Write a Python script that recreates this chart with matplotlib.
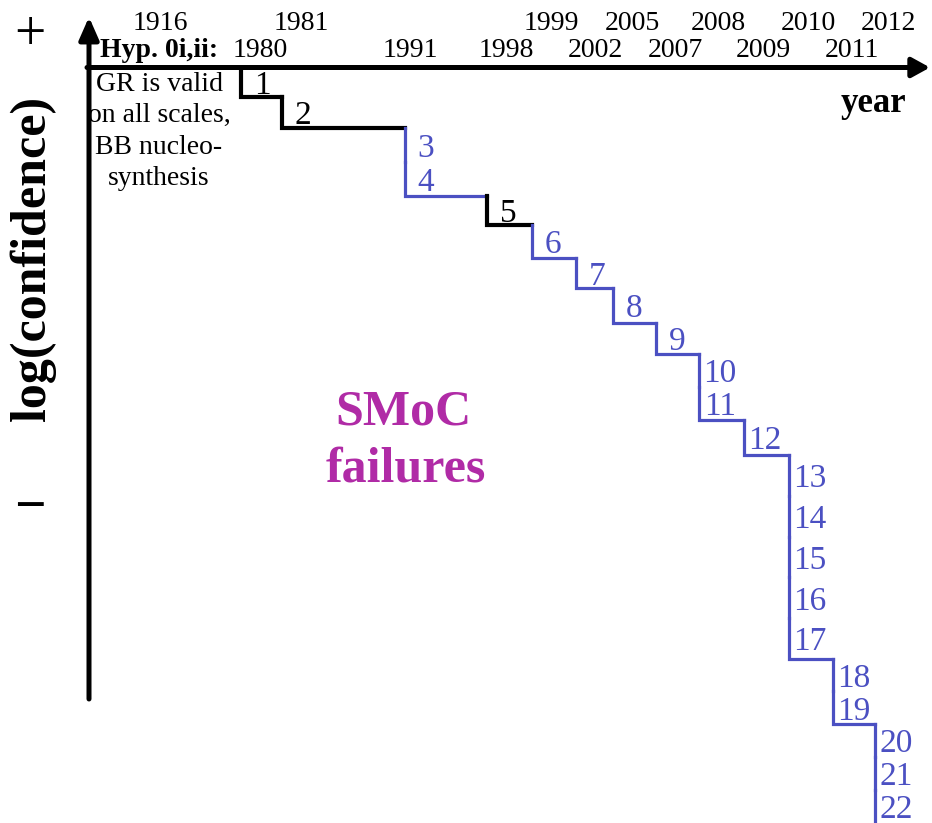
import matplotlib
matplotlib.use("Agg")
import matplotlib.pyplot as plt

plt.rcParams['font.family'] = ['Liberation Serif', 'DejaVu Serif']

# ---------------- data ----------------
years = [1980, 1981, 1991, 1998, 1999, 2002, 2005, 2007, 2008, 2009, 2010, 2011, 2012]
failures_per_year = [1, 1, 2, 1, 1, 1, 1, 1, 2, 1, 5, 2, 3]
# drop in log(confidence) per failure (arbitrary units)
confidence_drop = [29.5, 31, 34, 34, 29, 33, 30, 35, 31, 33, 33, 35,
                   40.8, 40.8, 40.8, 40.8, 40.8, 32.5, 32.5, 33, 33, 33]
black_failures = [1, 2, 5]
top_row_years = [1981, 1999, 2005, 2008, 2010, 2012]
hyp_year = 1916
hyp_label = "Hyp. 0i,ii:"
hyp_text = ["GR is valid", "on all scales,", "BB nucleo-", "synthesis"]

# ---------------- layout ----------------
col_x = [241, 282, 405, 487, 532, 576, 613, 656, 699, 744, 789, 833, 875]
label_nudge = {1991: -14, 2012: -6}
axis_y = 67.5
axis_x = 89
BLUE = '#4b50c2'
MAGENTA = '#b02ba6'

fig = plt.figure(figsize=(9.32, 8.23), dpi=100)
ax = fig.add_axes([0, 0, 1, 1])
ax.set_xlim(0, 932)
ax.set_ylim(823, 0)
ax.axis('off')

# axes with arrows
ax.annotate('', xy=(930, axis_y), xytext=(axis_x - 2, axis_y),
            arrowprops=dict(arrowstyle='-|>,head_length=0.6,head_width=0.33',
                            mutation_scale=18, lw=3.6, color='black',
                            shrinkA=0, shrinkB=0))
ax.annotate('', xy=(axis_x, 17), xytext=(axis_x, 699),
            arrowprops=dict(arrowstyle='-|>,head_length=0.75,head_width=0.33',
                            mutation_scale=18, lw=3.6, color='black',
                            shrinkA=0, shrinkB=0))

# staircase
fail_no = 0
y = axis_y
em = 24 * 100 / 72
for gi, (yr, n) in enumerate(zip(years, failures_per_year)):
    x = col_x[gi]
    for k in range(n):
        fail_no += 1
        top = y
        bot = y + confidence_drop[fail_no - 1]
        color = 'black' if fail_no in black_failures else BLUE
        lw = 3.0 if color == 'black' else 2.3
        xs = [x, x]
        ys = [top, bot]
        if k == n - 1 and gi < len(years) - 1:
            xs.append(col_x[gi + 1])
            ys.append(bot)
        ax.plot(xs, ys, color=color, lw=lw, solid_capstyle='projecting',
                solid_joinstyle='miter')
        ax.text(x + 21, (top + bot) / 2 + 0.5 + 0.338 * em, str(fail_no),
                color=color, fontsize=24, ha='center', va='baseline')
        y = bot
    # year label
    cx = x + 19 + label_nudge.get(yr, 0)
    by = 30 if yr in top_row_years else 57
    ax.text(cx, by, str(yr), fontsize=20, ha='center', va='baseline')

# hypothesis labels
ax.text(160, 30, str(hyp_year), fontsize=20, ha='center', va='baseline')
ax.text(159, 57, hyp_label, fontsize=20, fontweight='bold', ha='center', va='baseline')
for i, line in enumerate(hyp_text):
    ax.text(159, 91 + 31.3 * i, line, fontsize=20, ha='center', va='baseline')

# axis titles
ax.text(873, 112, 'year', fontsize=25, fontweight='bold', ha='center', va='baseline')
ax.text(33, 258, 'log(confidence)', fontsize=36, fontweight='bold',
        rotation=90, ha='center', va='center')
ax.text(30, 50, '+', fontsize=40, ha='center', va='baseline')
ax.text(30, 523, '\u2212', fontsize=40, fontweight='bold', ha='center', va='baseline')

# SMoC failures
ax.text(403, 424, 'SMoC', fontsize=36, fontweight='bold', color=MAGENTA,
        ha='center', va='baseline')
ax.text(406, 481, 'failures', fontsize=36, fontweight='bold', color=MAGENTA,
        ha='center', va='baseline')

fig.savefig('out.png', dpi=100)
